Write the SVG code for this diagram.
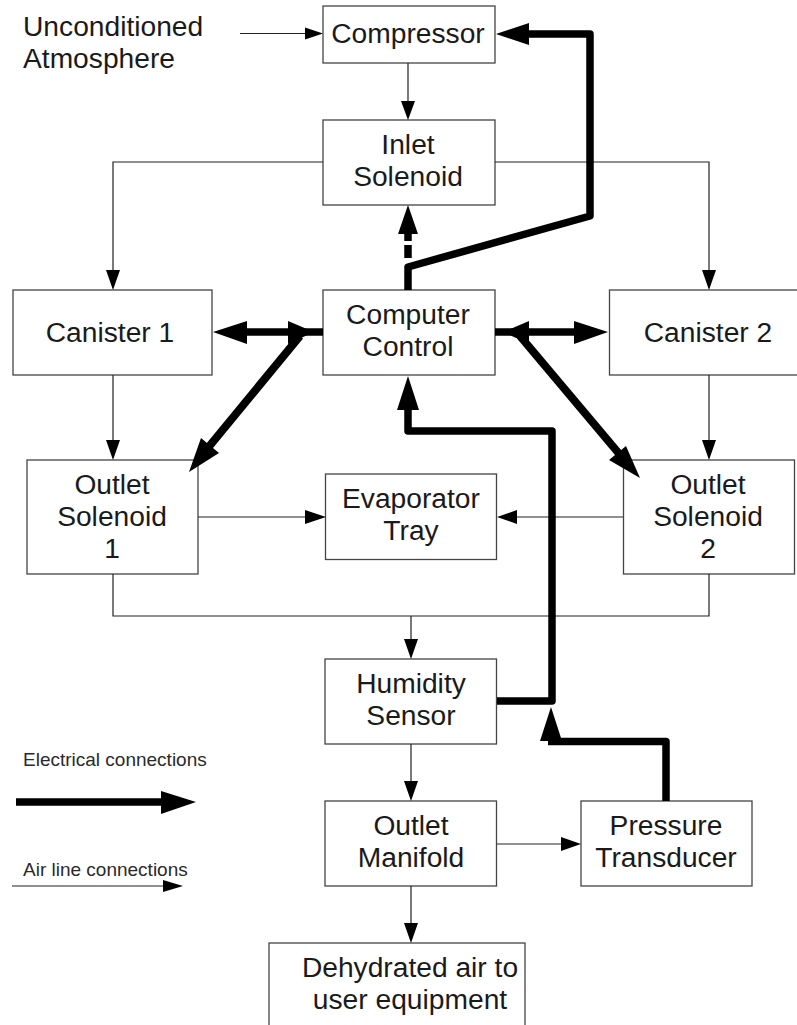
<svg xmlns="http://www.w3.org/2000/svg" width="797" height="1025" viewBox="0 0 797 1025">
<style>
.box{fill:#fff;stroke:#444;stroke-width:1.3}
text{font-family:"Liberation Sans",Arial,sans-serif;font-size:28.2px;fill:#1a1a1a;text-anchor:middle}
.free{text-anchor:start}
.small{font-size:19px;text-anchor:start;fill:#2a2a2a}
.air{fill:none;stroke:#222;stroke-width:1.2}
.el{fill:none;stroke:#000;stroke-width:7.5;stroke-linejoin:round;stroke-linecap:butt}
.diag{stroke-width:8}
.head{fill:#000;stroke:none}
</style>
<rect width="797" height="1025" fill="#fff"/>
<g id="atmosphere"><text class="free" x="23" y="36">Unconditioned</text><text class="free" x="23" y="68">Atmosphere</text></g>
<g id="compressor"><rect class="box" x="323" y="6" width="172" height="57"/><text x="408" y="43">Compressor</text></g>
<g id="inlet-solenoid"><rect class="box" x="323" y="120" width="172" height="85"/><text x="408" y="154">Inlet</text><text x="408" y="186">Solenoid</text></g>
<g id="canister-1"><rect class="box" x="13" y="290" width="199" height="85"/><text x="110" y="342">Canister 1</text></g>
<g id="computer-control"><rect class="box" x="323" y="290" width="172" height="85"/><text x="408" y="324">Computer</text><text x="408" y="356">Control</text></g>
<g id="canister-2"><rect class="box" x="609.500" y="290" width="190" height="85"/><text x="708" y="342">Canister 2</text></g>
<g id="outlet-solenoid-1"><rect class="box" x="27" y="460" width="171" height="114"/><text x="112" y="494">Outlet</text><text x="112" y="526">Solenoid</text><text x="112" y="558">1</text></g>
<g id="evaporator-tray"><rect class="box" x="325.500" y="474" width="171" height="85.500"/><text x="411" y="508">Evaporator</text><text x="411" y="540">Tray</text></g>
<g id="outlet-solenoid-2"><rect class="box" x="623.500" y="460" width="171" height="114"/><text x="708" y="494">Outlet</text><text x="708" y="526">Solenoid</text><text x="708" y="558">2</text></g>
<g id="humidity-sensor"><rect class="box" x="325" y="659" width="171.500" height="85"/><text x="411" y="693">Humidity</text><text x="411" y="725">Sensor</text></g>
<g id="outlet-manifold"><rect class="box" x="325" y="801" width="171.500" height="85"/><text x="411" y="835">Outlet</text><text x="411" y="867">Manifold</text></g>
<g id="pressure-transducer"><rect class="box" x="581" y="801" width="171" height="85"/><text x="666" y="835">Pressure</text><text x="666" y="867">Transducer</text></g>
<g id="dehydrated-air"><rect class="box" x="269" y="943" width="256" height="90"/><text x="410" y="977">Dehydrated air to</text><text x="410" y="1009">user equipment</text></g>
<g id="legend"><text class="small" x="23" y="766">Electrical connections</text><text class="small" x="23" y="876">Air line connections</text></g>
<g id="connectors">
<path class="air" d="M240 33.500H310M408 63V107M323 162H113V277M495 162H709V277M113 375V447M709 375V447M198 517H312M623 517H510M113 574V616H709V574M411 616V646M411 744V788M497 844H568M411 886V930M12 886H165"/>
<path class="head" d="M323 33.500L305 27.500V39.500ZM408 120L401 101H415ZM113 290L106 270H120ZM709 290L702 270H716ZM113 460L106 440H120ZM709 460L702 440H716ZM326 517L305 510V524ZM497 517L517 510V524ZM411 659L404 639H418ZM411 801L404 781H418ZM581 844L561 837V851ZM411 943L404 923H418ZM183 886L163 880V892Z"/>
<path class="el" d="M408 290V267L590 216V34H525"/>
<path class="head" d="M496 34L529 23V45Z"/>
<path class="el" d="M408 241V230"/>
<path class="el" d="M408 258V245"/>
<path class="head" d="M408 205L418 234H398Z"/>
<path class="el" d="M323 332H245"/>
<path class="el diag" d="M300 336L207 449"/>
<path class="head" d="M213 332L247 321V344ZM314 332L288 321V344ZM189 472L201 438L219 453Z"/>
<path class="el" d="M495 332H577"/>
<path class="el diag" d="M520 336L621 456"/>
<path class="head" d="M608 332L574 321V344ZM503 332L529 321V344ZM640 478L609 460L626 446Z"/>
<path class="el" d="M408 408V431H552V701H497"/>
<path class="head" d="M408 376L419 410H397Z"/>
<path class="el" d="M666 801V741.500H548"/>
<path class="head" d="M551 707L562 741H540Z"/>
<path class="el" d="M16 802H165"/>
<path class="head" d="M196 802L161 791V814Z"/>
</g>
</svg>
